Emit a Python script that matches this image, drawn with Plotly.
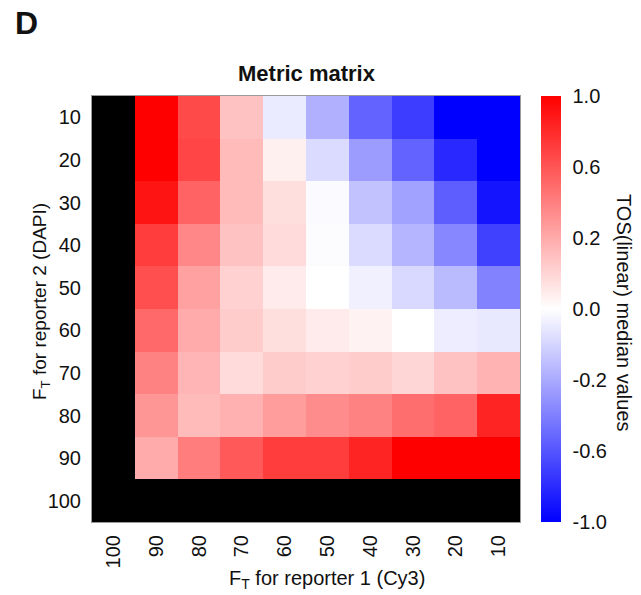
import numpy as np
import plotly.graph_objects as go

# Categories
x_labels = ["100", "90", "80", "70", "60", "50", "40", "30", "20", "10"]   # F_T reporter 1 (Cy3)
y_labels = ["10", "20", "30", "40", "50", "60", "70", "80", "90", "100"]   # F_T reporter 2 (DAPI)

# Colour-scale position of each cell (-1 blue .. 0 white .. 1 red); None = black (undefined)
row_10  = [None, 1.00, 0.71, 0.24, -0.08, -0.31, -0.61, -0.76, -1.00, -1.00]
row_20  = [None, 1.00, 0.73, 0.27,  0.06, -0.14, -0.39, -0.61, -0.84, -1.00]
row_30  = [None, 0.92, 0.61, 0.27,  0.13, -0.02, -0.24, -0.37, -0.63, -0.92]
row_40  = [None, 0.76, 0.47, 0.24,  0.14, -0.01, -0.14, -0.29, -0.47, -0.75]
row_50  = [None, 0.69, 0.37, 0.18,  0.08,  0.00, -0.06, -0.15, -0.27, -0.49]
row_60  = [None, 0.59, 0.33, 0.20,  0.13,  0.08,  0.05,  0.00, -0.07, -0.09]
row_70  = [None, 0.49, 0.29, 0.14,  0.20,  0.18,  0.20,  0.16,  0.24,  0.30]
row_80  = [None, 0.41, 0.27, 0.31,  0.39,  0.45,  0.49,  0.57,  0.61,  0.86]
row_90  = [None, 0.33, 0.51, 0.65,  0.76,  0.76,  0.86,  1.00,  1.00,  1.00]
row_100 = [None] * 10

cbar_tickvals = [1, 2/3, 1/3, 0, -1/3, -2/3, -1]
cbar_ticktext = ["1.0", "0.6", "0.2", "0.0", "-0.2", "-0.6", "-1.0"]

z = [row_10, row_20, row_30, row_40, row_50, row_60, row_70, row_80, row_90, row_100]
z = np.array([[np.nan if v is None else v for v in r] for r in z], dtype=float)

FONT = "Liberation Sans, Arial, sans-serif"
TXT = "#111"

# plot area in pixels
L, R, T, B = 92, 520, 96, 522
W, H = R - L, B - T


def px(x):
    return (x - L) / W


def py(y):
    return (B - y) / H


fig = go.Figure(go.Heatmap(
    z=z, x=x_labels, y=y_labels,
    zmin=-1, zmax=1,
    colorscale=[[0, "rgb(0,0,255)"], [0.5, "rgb(255,255,255)"], [1, "rgb(255,0,0)"]],
    hoverongaps=False,
    colorbar=dict(
        x=px(541), xanchor="left", xpad=0,
        y=0.5, yanchor="middle", len=1.0, ypad=0,
        thickness=20, outlinewidth=0,
        tickvals=cbar_tickvals, ticktext=cbar_ticktext,
        tickfont=dict(family=FONT, size=20, color=TXT),
        ticks="outside", ticklen=8, tickcolor="rgba(0,0,0,0)",
    ),
))

fig.update_layout(
    width=641, height=595,
    margin=dict(l=L, r=641 - R, t=T, b=595 - B),
    paper_bgcolor="white",
    plot_bgcolor="black",
    font=dict(family=FONT, color=TXT, size=20),
    xaxis=dict(type="category", tickangle=-90, tickfont=dict(size=20, family=FONT, color=TXT),
               ticks="outside", ticklen=4, tickcolor="rgba(0,0,0,0)",
               showline=True, linecolor="#9a9a9a", linewidth=1, mirror=True,
               showgrid=False, zeroline=False),
    yaxis=dict(type="category", autorange="reversed", tickfont=dict(size=20, family=FONT, color=TXT),
               ticks="outside", ticklen=6, tickcolor="rgba(0,0,0,0)",
               showline=True, linecolor="#9a9a9a", linewidth=1, mirror=True,
               showgrid=False, zeroline=False),
    annotations=[
        dict(text="<b>D</b>", xref="paper", yref="paper",
             x=px(26), y=py(23), xanchor="center", yanchor="middle",
             showarrow=False, font=dict(size=32, family=FONT, color=TXT)),
        dict(text="<b>Metric matrix</b>", xref="paper", yref="paper",
             x=px(307), y=py(73), xanchor="center", yanchor="middle",
             showarrow=False, font=dict(size=22, family=FONT, color=TXT)),
        dict(text="F<sub>T</sub> for reporter 1 (Cy3)", xref="paper", yref="paper",
             x=px(327), y=py(579), xanchor="center", yanchor="middle",
             showarrow=False, font=dict(size=20, family=FONT, color=TXT)),
        dict(text="F<sub>T</sub> for reporter 2 (DAPI)", textangle=-90, xref="paper", yref="paper",
             x=px(41), y=py(302), xanchor="center", yanchor="middle",
             showarrow=False, font=dict(size=19, family=FONT, color=TXT)),
        dict(text="TOS(linear) median values", textangle=90, xref="paper", yref="paper",
             x=px(624), y=py(313), xanchor="center", yanchor="middle", showarrow=False,
             font=dict(size=20, family=FONT, color=TXT)),
    ],
)

fig.write_html("out.html")
